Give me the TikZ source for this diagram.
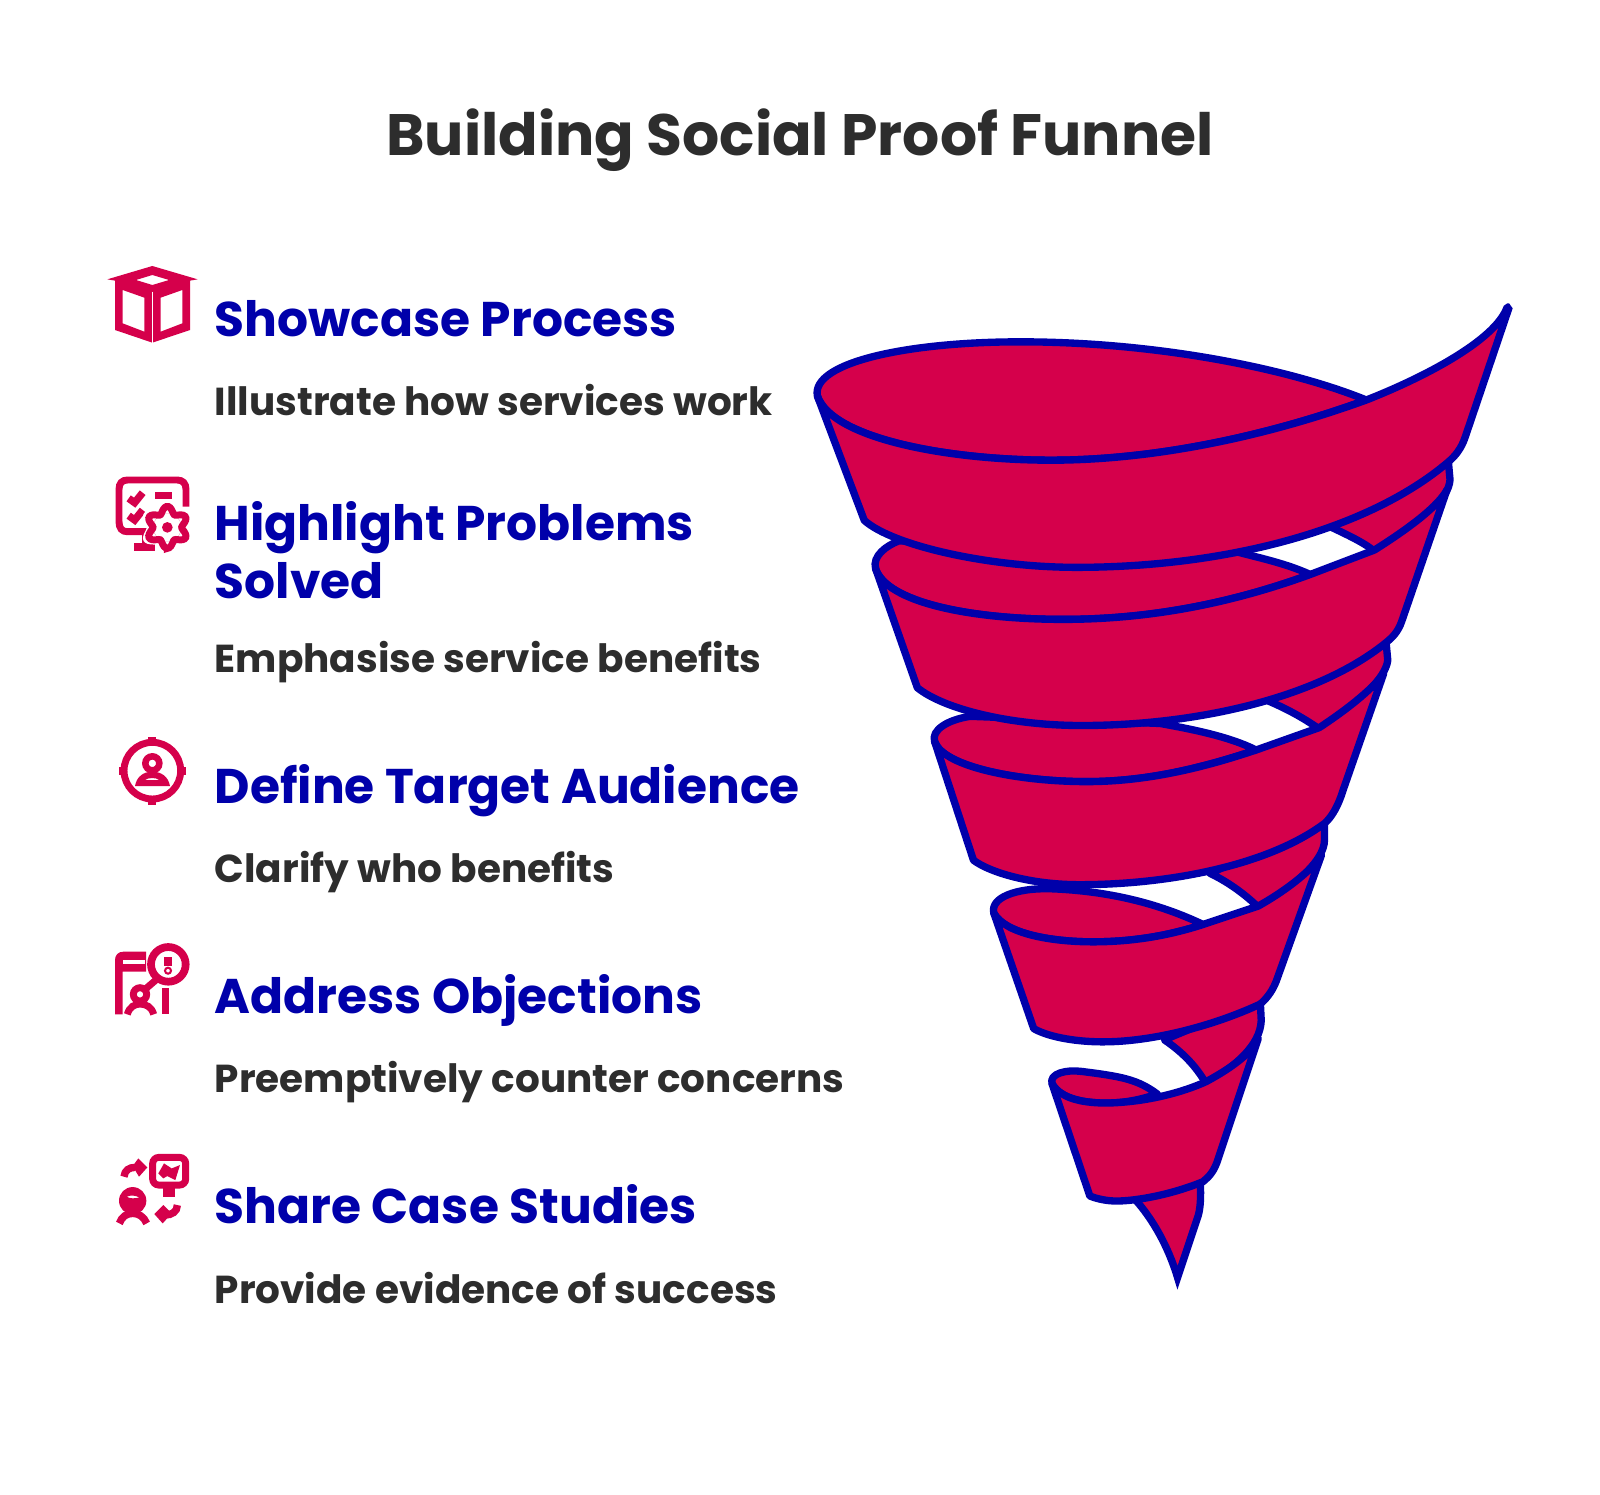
\documentclass[tikz,border=0pt]{standalone}
\usepackage{fontspec}
\setmainfont{Poppins}
\definecolor{funnelred}{HTML}{D5004B}
\definecolor{funnelblue}{HTML}{0000AA}
\definecolor{darktext}{HTML}{2D2D2D}
\tikzset{
    titletext/.style={font=\fontsize{28.6}{34}\selectfont\bfseries, text=darktext, inner sep=0pt},
    headtext/.style={anchor=base west, font=\fontsize{23.87}{28}\selectfont\bfseries, text=funnelblue, inner sep=0pt},
    subtext/.style={anchor=base west, font=\fontsize{19.1}{22}\selectfont\bfseries, text=darktext, inner sep=0pt},
    band/.style={fill=funnelred, draw=funnelblue, line width=3.6pt, line join=round},
    iconfill/.style={fill=funnelred, draw=none},
    iconline/.style={draw=funnelred, fill=none, line width=#1},
    iconline/.default=3.4pt
}
\begin{document}
\begin{tikzpicture}[x=0.5pt,y=-0.5pt]
    \useasboundingbox (0,0) rectangle (1568,1465);

    \node [titletext](title) at (784,137) {Building Social Proof Funnel};

    \node [headtext](headA) at (210,330) {Showcase Process};
    \node [subtext](subA) at (210,407) {Illustrate how services work};
    \node [headtext](headB) at (210,530) {Highlight Problems};
    \node [headtext](headBb) at (210,587) {Solved};
    \node [subtext](subB) at (210,659) {Emphasise service benefits};
    \node [headtext](headC) at (210,787) {Define Target Audience};
    \node [subtext](subC) at (210,865) {Clarify who benefits};
    \node [headtext](headD) at (210,993) {Address Objections};
    \node [subtext](subD) at (210,1071) {Preemptively counter concerns};
    \node [headtext](headE) at (210,1199) {Share Case Studies};
    \node [subtext](subE) at (210,1277) {Provide evidence of success};

    % funnel, lowest turn first
    \draw[band, line join=miter] (1112,1175) .. controls (1130,1195) and (1145,1222) .. (1154,1252) -- (1173,1195) .. controls (1177,1185) and (1177,1172) .. (1176,1150) -- cycle;

    \draw[band] (1031,1062) .. controls (1028,1052) and (1045,1048) .. (1060,1050) .. controls (1100,1055) and (1115,1058) .. (1134,1072) .. controls (1118,1078) and (1100,1081) .. (1085,1081) .. controls (1065,1081) and (1040,1078) .. (1031,1062) -- cycle;
    \draw[band] (1141,1019) .. controls (1160,1032) and (1172,1045) .. (1182,1062) .. controls (1210,1045) and (1235,1025) .. (1236,1000) -- (1235,980) -- cycle;
    \draw[band] (1031,1062) .. controls (1040,1078) and (1065,1081) .. (1085,1081) .. controls (1125,1080) and (1160,1070) .. (1182,1060) .. controls (1210,1045) and (1228,1030) .. (1233,1018) -- (1194,1135) .. controls (1190,1148) and (1185,1153) .. (1179,1158) .. controls (1150,1170) and (1115,1177) .. (1094,1177) .. controls (1085,1177) and (1075,1175) .. (1068,1172) -- cycle;

    \draw[band] (974,895) .. controls (970,880) and (995,870) .. (1030,871) .. controls (1085,873) and (1135,885) .. (1179,906) .. controls (1145,917) and (1110,923) .. (1071,923) .. controls (1030,923) and (985,915) .. (974,895) -- cycle;
    \draw[band] (1186,856) .. controls (1205,865) and (1222,878) .. (1234,890) .. controls (1265,870) and (1298,845) .. (1298,823) -- (1298,803) -- cycle;
    \draw[band] (974,895) .. controls (985,915) and (1030,923) .. (1071,923) .. controls (1110,923) and (1145,917) .. (1179,906) -- (1233,888) .. controls (1265,870) and (1288,850) .. (1295,838) -- (1252,958) .. controls (1248,970) and (1242,978) .. (1235,984) .. controls (1190,1005) and (1130,1021) .. (1081,1021) .. controls (1050,1021) and (1025,1015) .. (1013,1008) -- cycle;

    \draw[band] (916,727) .. controls (912,715) and (930,705) .. (951,702) -- (1137,709) .. controls (1170,715) and (1205,722) .. (1231,735) .. controls (1180,752) and (1125,766) .. (1065,766) .. controls (1000,766) and (925,752) .. (916,727) -- cycle;
    \draw[band] (1243,687) .. controls (1262,695) and (1280,705) .. (1295,716) .. controls (1330,690) and (1358,665) .. (1360,647) -- (1358,626) -- cycle;
    \draw[band] (916,727) .. controls (925,752) and (1000,766) .. (1065,766) .. controls (1125,766) and (1180,752) .. (1231,735) -- (1293,713) .. controls (1325,692) and (1348,672) .. (1356,660) -- (1316,775) .. controls (1312,788) and (1306,800) .. (1298,807) .. controls (1240,850) and (1140,867) .. (1058,867) .. controls (1010,867) and (970,855) .. (954,843) -- cycle;

    \draw[band] (858,557) .. controls (855,545) and (868,535) .. (881,530) -- (1209,540) .. controls (1235,547) and (1260,552) .. (1284,563) .. controls (1210,590) and (1130,607) .. (1042,607) .. controls (950,607) and (868,590) .. (858,557) -- cycle;
    \draw[band] (1299,514) .. controls (1320,524) and (1338,532) .. (1349,542) .. controls (1390,515) and (1420,490) .. (1421,470) -- (1419,448) -- cycle;
    \draw[band] (858,557) .. controls (868,590) and (950,607) .. (1042,607) .. controls (1130,607) and (1210,590) .. (1284,563) -- (1347,539) .. controls (1385,515) and (1410,495) .. (1418,480) -- (1374,608) .. controls (1370,620) and (1364,625) .. (1358,630) .. controls (1290,685) and (1170,711) .. (1060,711) .. controls (990,711) and (925,695) .. (899,674) -- cycle;

    \draw[band] (801,388) .. controls (795,355) and (890,335) .. (1000,335) .. controls (1130,335) and (1260,360) .. (1339,392) .. controls (1240,428) and (1130,451) .. (1030,451) .. controls (930,451) and (815,430) .. (801,388) -- cycle;
    \draw[band, line join=bevel] (801,388) .. controls (815,430) and (930,451) .. (1030,451) .. controls (1130,451) and (1240,428) .. (1339,392) .. controls (1390,372) and (1465,335) .. (1477,301) -- (1479,301) -- (1436,428) .. controls (1432,440) and (1426,447) .. (1419,453) .. controls (1340,520) and (1200,556) .. (1055,556) .. controls (970,556) and (875,535) .. (847,510) -- cycle;

    % icons are drawn in the pixels of one 3x crop
    \begin{scope}[shift={(88.2,245)},scale=0.3267]
        \fill[iconfill, even odd rule] (52,88) -- (187,48) -- (323,88) -- (300,92) -- (300,240) -- (187,278) -- (75,240) -- (75,92) -- cycle
            (138,90) -- (187,75) -- (237,90) -- (187,105) -- cycle
            (98,120) -- (163,143) -- (163,245) -- (98,220) -- cycle
            (212,143) -- (277,120) -- (277,220) -- (212,245) -- cycle;
        \draw[white, line width=0.6pt] (187,125) -- (187,278);

        \draw[iconline] (288,770) -- (288,718) .. controls (288,700) and (278,690) .. (262,690) -- (112,690) .. controls (96,690) and (87,700) .. (87,718) -- (87,815) .. controls (87,835) and (96,845) .. (112,845) -- (175,845);
        \fill[iconfill] (155,845) rectangle (172,880);
        \fill[iconfill] (133,880) rectangle (195,903);
        \fill[iconfill] (195,725) rectangle (245,748);
        \draw[iconline=3.6pt] (116,745) -- (134,758) -- (158,728);
        \draw[iconline=3.6pt] (116,797) -- (134,810) -- (158,780);
        \fill[white] plot[domain=0:360,samples=72] ({232+(72+10*cos(6*\x))*sin(\x)},{832+(72+10*cos(6*\x))*cos(\x)}) -- cycle;
        \draw[iconline=3.4pt] plot[domain=0:360,samples=72] ({232+(53+10*cos(6*\x))*sin(\x)},{832+(53+10*cos(6*\x))*cos(\x)}) -- cycle;
        \fill[iconfill] (232,832) circle (16);
        \foreach \a in {0,60,...,300}
            \fill[iconfill] (232,832) ++(\a+30:42) -- ++(\a+120:15) -- ++(\a-60:30) -- cycle;
    \end{scope}

    \begin{scope}[shift={(88.2,705.6)},scale=0.3267]
        \draw[iconline] (187,152) circle (85);
        \fill[iconfill] (175,50) rectangle (199,72);
        \fill[iconfill] (175,232) rectangle (199,254);
        \fill[iconfill] (86,140) rectangle (108,164);
        \fill[iconfill] (266,140) rectangle (288,164);
        \draw[iconline=3.2pt] (187,130) circle (21);
        \fill[iconfill, even odd rule] (135,198) .. controls (140,170) and (160,155) .. (187,155) .. controls (214,155) and (235,170) .. (240,198) -- cycle
            (165,180) .. controls (175,172) and (199,172) .. (207,180) -- cycle;

        \fill[iconfill] (75,720) .. controls (75,705) and (85,695) .. (100,695) -- (168,695) -- (168,755) -- (98,755) -- (98,883) -- (75,883) -- cycle;
        \fill[white] (98,720) rectangle (166,732);
        \draw[iconline=3.4pt] (150,823) circle (20);
        \draw[iconline=3.4pt] (112,883) .. controls (118,860) and (135,852) .. (150,852) .. controls (167,852) and (185,860) .. (191,883);
        \fill[iconfill] (215,805) rectangle (238,883);
        \draw[iconline=3.8pt] (235,733) circle (52);
        \draw[iconline=3.4pt] (200,778) -- (165,808);
        \fill[iconfill] (222,712) rectangle (246,738);
        \draw[iconline=1pt] (234,752) circle (9);

        \draw[iconline, rounded corners=3pt] (188,1312) rectangle (287,1395);
        \fill[iconfill] (220,1405) rectangle (255,1432);
        \fill[iconfill] (205,1360) -- (222,1330) -- (245,1345) -- (270,1335) -- (256,1380) -- (232,1368) -- (220,1375) -- cycle;
        \draw[iconline=3.6pt] (102,1370) .. controls (104,1350) and (118,1342) .. (135,1342);
        \fill[iconfill] (128,1338) -- (145,1315) -- (172,1342) -- (147,1370) -- cycle;
        \fill[iconfill, even odd rule] (128,1442) circle (41)
            (110,1430) .. controls (120,1425) and (135,1425) .. (148,1432) .. controls (135,1436) and (120,1436) .. (110,1430) -- cycle;
        \draw[iconline=3.6pt] (88,1510) .. controls (95,1490) and (110,1480) .. (128,1480) .. controls (146,1480) and (162,1490) .. (170,1510);
        \draw[iconline=3.6pt] (262,1455) .. controls (262,1475) and (245,1485) .. (225,1485);
        \fill[iconfill] (193,1482) -- (220,1455) -- (245,1480) -- (218,1510) -- cycle;
    \end{scope}
\end{tikzpicture}
\end{document}
